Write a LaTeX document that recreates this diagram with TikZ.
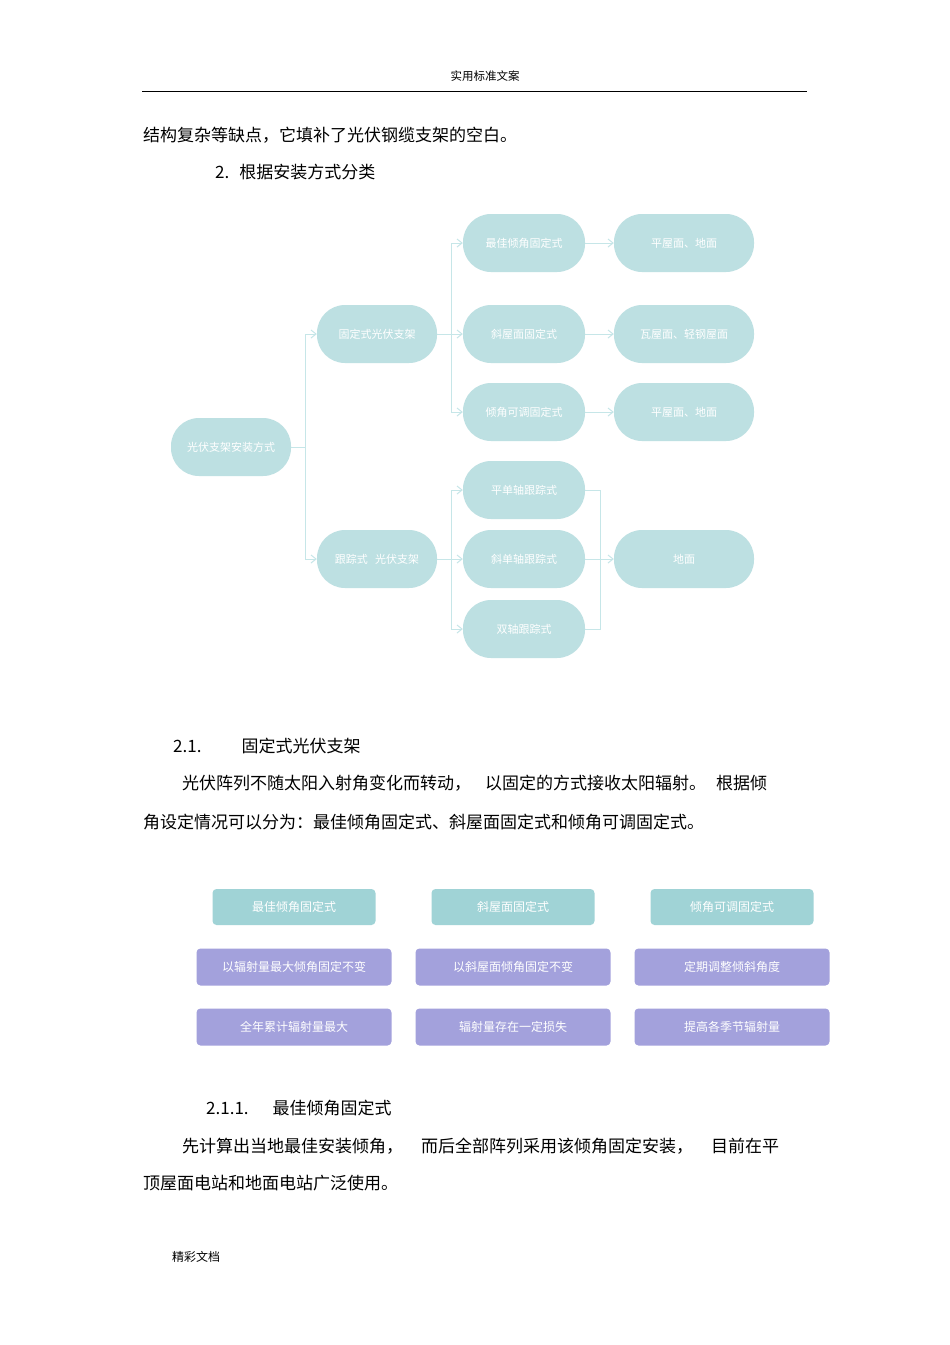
\documentclass[tikz,border=0pt]{standalone}
\usepackage{fontspec}
\setmainfont{Noto Sans CJK SC}
\usetikzlibrary{arrows.meta}
\definecolor{tealbox}{HTML}{BDE0E2}
\definecolor{tealline}{HTML}{C6E6E8}
\definecolor{headbox}{HTML}{A0D3D6}
\definecolor{purp}{HTML}{A3A1DC}
\tikzset{
 tbox/.style={fill=tealbox,rounded corners=28pt,minimum height=58pt,text=white,font=\fontsize{11}{12}\selectfont,align=center,inner sep=2pt},
 lvA/.style={tbox,minimum width=120pt,text width=100pt},
 lvB/.style={tbox,minimum width=122pt},
 lvC/.style={tbox,minimum width=140pt},
 conn/.style={draw=tealline,line width=1pt},
 arr/.style={conn,-{Straight Barb[length=5pt,width=8pt]}},
 hbox/.style={fill=headbox,rounded corners=4pt,minimum width=163pt,minimum height=36pt,text=white,font=\fontsize{12}{13}\selectfont},
 pbox/.style={fill=purp,rounded corners=4pt,minimum width=195pt,minimum height=37pt,text=white,font=\fontsize{12}{13}\selectfont},
 body/.style={anchor=west,font=\fontsize{17}{20}\selectfont,inner sep=0pt},
}
\begin{document}
\begin{tikzpicture}[x=1pt,y=-1pt]
\useasboundingbox[fill=white] (0,0) rectangle (950,1345);
% header
\node[font=\fontsize{11.5}{12}\selectfont] (hdr) at (485,76) {实用标准文案};
\draw[line width=0.8pt] (142,91) -- (807,91);
\node[body] (t1) at (143,135) {结构复杂等缺点，它填补了光伏钢缆支架的空白。};
\node[body] (t2) at (215,172) {2.\hspace{10pt}根据安装方式分类};
% tree
\node[lvA] (root) at (231,447) {光伏支架安装方式};
\node[lvA] (fix) at (377,334) {固定式光伏支架};
\node[lvA,text width=96pt] (trk) at (377,559) {跟踪式\ \ 光伏支架};
\node[lvB] (b1) at (524,243) {最佳倾角固定式};
\node[lvB] (b2) at (524,334) {斜屋面固定式};
\node[lvB] (b3) at (524,412) {倾角可调固定式};
\node[lvB] (b4) at (524,490) {平单轴跟踪式};
\node[lvB] (b5) at (524,559) {斜单轴跟踪式};
\node[lvB] (b6) at (524,629) {双轴跟踪式};
\node[lvC] (c1) at (684,243) {平屋面、地面};
\node[lvC] (c2) at (684,334) {瓦屋面、轻钢屋面};
\node[lvC] (c3) at (684,412) {平屋面、地面};
\node[lvC] (c4) at (684,559) {地面};
\coordinate (j0) at (305,447);
\draw[conn] (root.east) -- (j0);
\draw[arr] (j0) |- (fix.west);
\draw[arr] (j0) |- (trk.west);
\coordinate (j1) at (451,334);
\draw[conn] (fix.east) -- (j1);
\draw[arr] (j1) |- (b1.west);
\draw[arr] (j1) -- (b2.west);
\draw[arr] (j1) |- (b3.west);
\coordinate (j2) at (451,559);
\draw[conn] (trk.east) -- (j2);
\draw[arr] (j2) |- (b4.west);
\draw[arr] (j2) -- (b5.west);
\draw[arr] (j2) |- (b6.west);
\draw[arr] (b1) -- (c1);
\draw[arr] (b2) -- (c2);
\draw[arr] (b3) -- (c3);
\coordinate (j3) at (600,559);
\draw[conn] (b4.east) -| (j3);
\draw[conn] (b6.east) -| (j3);
\draw[arr] (b5) -- (c4);
% section 2.1
\node[body] (s21) at (173,746) {2.1.\hspace{40pt}固定式光伏支架};
\node[body] (p1) at (182,783) {光伏阵列不随太阳入射角变化而转动，\hspace{14pt}以固定的方式接收太阳辐射。\hspace{10pt}根据倾};
\node[body] (p2) at (143,822) {角设定情况可以分为：最佳倾角固定式、斜屋面固定式和倾角可调固定式。};
% grid
\node[hbox] (h1) at (294,907) {最佳倾角固定式};
\node[hbox] (h2) at (513,907) {斜屋面固定式};
\node[hbox] (h3) at (732,907) {倾角可调固定式};
\node[pbox] (g1) at (294,967) {以辐射量最大倾角固定不变};
\node[pbox] (g2) at (513,967) {以斜屋面倾角固定不变};
\node[pbox] (g3) at (732,967) {定期调整倾斜角度};
\node[pbox] (g4) at (294,1027) {全年累计辐射量最大};
\node[pbox] (g5) at (513,1027) {辐射量存在一定损失};
\node[pbox] (g6) at (732,1027) {提高各季节辐射量};
% section 2.1.1
\node[body] (s211) at (206,1108) {2.1.1.\hspace{24pt}最佳倾角固定式};
\node[body] (p3) at (182,1146) {先计算出当地最佳安装倾角，\hspace{18pt}而后全部阵列采用该倾角固定安装，\hspace{18pt}目前在平};
\node[body] (p4) at (143,1183) {顶屋面电站和地面电站广泛使用。};
\node[font=\fontsize{12}{13}\selectfont,anchor=west,inner sep=0pt] (ft) at (172,1257) {精彩文档};
\end{tikzpicture}
\end{document}
